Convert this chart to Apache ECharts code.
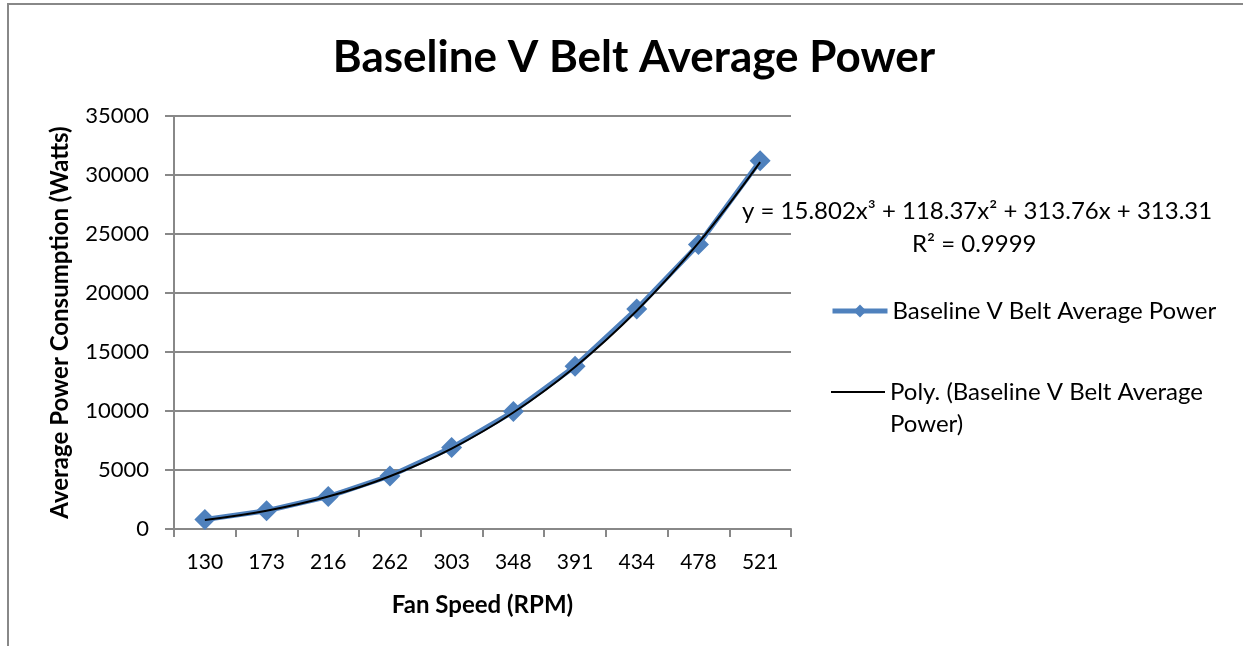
<!DOCTYPE html>
<html>
<head>
<meta charset="utf-8">
<script src="https://cdn.jsdelivr.net/npm/echarts@6/dist/echarts.min.js"></script>
<style>
html,body{margin:0;padding:0;background:#fff;}
#chart{width:1243px;height:646px;}
</style>
</head>
<body>
<div id="chart"></div>
<script>
var categories = ['130', '173', '216', '262', '303', '348', '391', '434', '478', '521'];
var powerValues = [800, 1550, 2750, 4500, 6900, 9950, 13800, 18650, 24100, 31200];
var trendValues = [761, 1541, 2747, 4474, 6817, 9870, 13730, 18490, 24245, 31090];
var yTicks = [0, 5000, 10000, 15000, 20000, 25000, 30000, 35000];
var seriesName = 'Baseline V Belt Average Power';
var trendName = 'Poly. (Baseline V Belt Average Power)';
var trendLegendLines = ['Poly. (Baseline V Belt Average', 'Power)'];
var equationText = 'y = 15.802x\u00B3 + 118.37x\u00B2 + 313.76x + 313.31';
var r2Text = 'R\u00B2 = 0.9999';

var FONT = 'Lato, "Open Sans", sans-serif';
var chart = echarts.init(document.getElementById('chart'), null, {renderer: 'canvas'});
chart.setOption({
  backgroundColor: '#ffffff',
  animation: false,
  title: {
    text: 'Baseline V Belt Average Power',
    left: 629, top: 31, textAlign: 'center',
    textStyle: {fontFamily: FONT, fontWeight: 'bold', fontSize: 44, color: '#000'}
  },
  grid: {left: 174, right: 452, top: 116, bottom: 117, containLabel: false},
  legend: [{
    orient: 'vertical', left: 830, top: 299, padding: 0,
    data: [seriesName],
    itemWidth: 55, itemHeight: 16,
    lineStyle: {width: 5},
    textStyle: {fontFamily: FONT, fontSize: 24, color: '#000'}
  }, {
    orient: 'vertical', left: 831, top: 380, padding: 0,
    data: [{name: trendName, icon: 'rect'}],
    itemWidth: 54, itemHeight: 2,
    formatter: function () { return trendLegendLines[0]; },
    textStyle: {fontFamily: FONT, fontSize: 24, color: '#000'}
  }],
  xAxis: {
    type: 'category', data: categories, boundaryGap: true,
    name: 'Fan Speed (RPM)', nameLocation: 'middle', nameGap: 64,
    nameTextStyle: {fontFamily: FONT, fontWeight: 'bold', fontSize: 24, color: '#000'},
    axisLine: {lineStyle: {color: '#888', width: 2}},
    axisTick: {show: true, length: 8, lineStyle: {color: '#888', width: 2}},
    axisLabel: {fontFamily: FONT, fontSize: 21, color: '#000', margin: 23}
  },
  yAxis: {
    type: 'value', min: 0, max: 35000, interval: 5000,
    name: 'Average Power Consumption (Watts)', nameLocation: 'middle', nameGap: 102,
    nameTextStyle: {fontFamily: FONT, fontWeight: 'bold', fontSize: 24, color: '#000'},
    axisLine: {show: true, lineStyle: {color: '#888', width: 2}},
    axisTick: {show: true, length: 9, lineStyle: {color: '#888', width: 2}},
    axisLabel: {fontFamily: FONT, fontSize: 22, color: '#000', margin: 25,
      formatter: function (v) { return yTicks.indexOf(v) >= 0 ? String(v) : ''; }},
    splitLine: {show: true, lineStyle: {color: '#888', width: 2}}
  },
  series: [{
    name: seriesName, type: 'line', data: powerValues,
    symbol: 'diamond', symbolSize: 21,
    lineStyle: {color: '#4F81BD', width: 5},
    itemStyle: {color: '#4F81BD'},
    z: 2
  }, {
    name: trendName, type: 'line', data: trendValues,
    smooth: 0.4, symbol: 'none', showSymbol: false,
    lineStyle: {color: '#000', width: 2},
    itemStyle: {color: '#000'},
    z: 3
  }],
  graphic: [{
    type: 'polyline', silent: true,
    shape: {points: [[8, 646], [8, 4], [1243, 4]]},
    style: {stroke: '#888', lineWidth: 2, fill: null}
  }, {
    type: 'text', left: 742, top: 199,
    style: {text: equationText, fontFamily: FONT, fontSize: 24, fill: '#000'}
  }, {
    type: 'text', left: 912, top: 232,
    style: {text: r2Text, fontFamily: FONT, fontSize: 24, fill: '#000'}
  }, {
    type: 'text', left: 890, top: 412,
    style: {text: trendLegendLines[1], fontFamily: FONT, fontSize: 24, fill: '#000'}
  }]
});
</script>
</body>
</html>
